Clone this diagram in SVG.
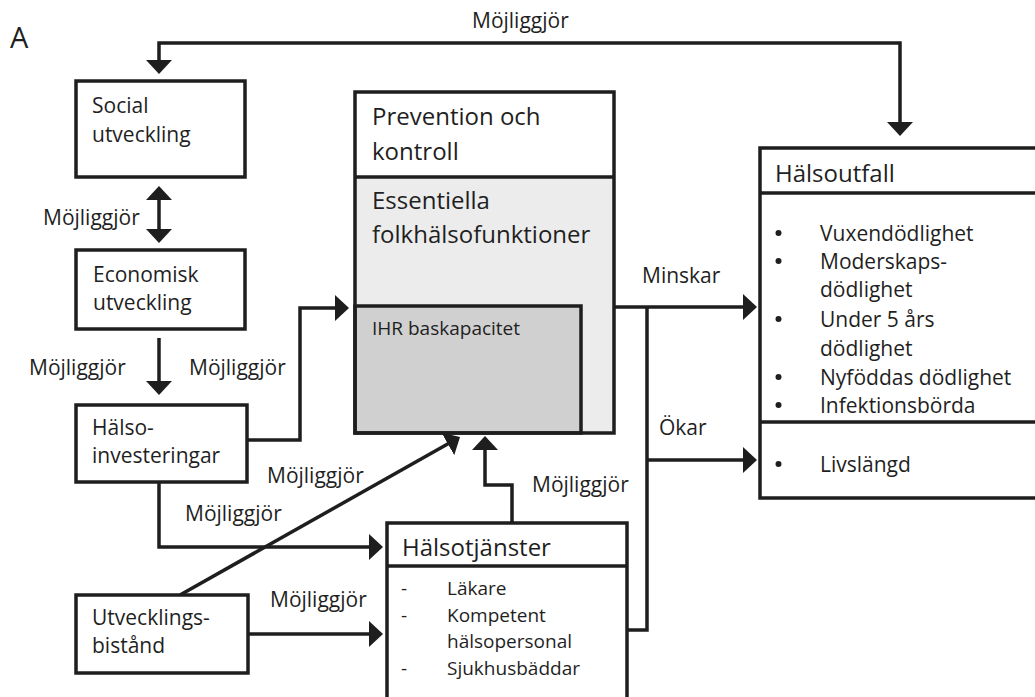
<svg xmlns="http://www.w3.org/2000/svg" width="1035" height="697" viewBox="0 0 1035 697">
  <style>
    text { font-family: "Open Sans", "Liberation Sans", sans-serif; fill: #1f1f1f; }
    .lbl { font-size: 21px; }
    .ttl { font-size: 24px; }
    .sm { font-size: 19px; }
    .box { fill: #ffffff; stroke: #1e1e1e; stroke-width: 3.5; }
    .ln { fill: none; stroke: #1e1e1e; stroke-width: 3.5; }
    .conn { fill: none; stroke: #1e1e1e; stroke-width: 3.5; marker-end: url(#ah); }
    .bul { fill: #1f1f1f; }
  </style>
  <defs>
    <marker id="ah" viewBox="0 0 14 26" refX="11" refY="13" markerWidth="14" markerHeight="26" markerUnits="userSpaceOnUse" orient="auto">
      <path d="M0,0 L14,13 L0,26 z" fill="#1e1e1e"/>
    </marker>
    <marker id="ahs" viewBox="0 0 14 26" refX="11" refY="13" markerWidth="14" markerHeight="26" markerUnits="userSpaceOnUse" orient="auto-start-reverse">
      <path d="M0,0 L14,13 L0,26 z" fill="#1e1e1e"/>
    </marker>
  </defs>
  <rect width="1035" height="697" fill="#ffffff"/>

  <text x="10" y="48" style="font-size:29px">A</text>

  <g id="connectors">
    <path class="ln" d="M900,133 V43 H159 V71" marker-start="url(#ahs)" marker-end="url(#ahs)"/>
    <path class="ln" d="M159,189 V240" marker-start="url(#ahs)" marker-end="url(#ahs)"/>
    <path class="conn" d="M159,338 V392"/>
    <path class="conn" d="M247,440 H300 V308 H346"/>
    <path class="conn" d="M159,482 V547 H380"/>
    <path class="conn" d="M180,595 L457.4,438.5"/>
    <path class="conn" d="M248,634 H380"/>
    <path class="conn" d="M512,523 V485 H485 V439"/>
    <path class="conn" d="M614,307 H754"/>
    <path class="ln" d="M627,630 H647 V307"/>
    <path class="conn" d="M647,460 H754"/>
    <text class="lbl" x="472" y="28">Möjliggjör</text>
    <text class="lbl" x="43" y="225">Möjliggjör</text>
    <text class="lbl" x="29" y="375">Möjliggjör</text>
    <text class="lbl" x="189" y="375">Möjliggjör</text>
    <text class="lbl" x="267" y="483">Möjliggjör</text>
    <text class="lbl" x="185" y="521">Möjliggjör</text>
    <text class="lbl" x="270" y="607">Möjliggjör</text>
    <text class="lbl" x="532" y="492">Möjliggjör</text>
    <text class="lbl" x="642" y="283">Minskar</text>
    <text class="lbl" x="659" y="435">Ökar</text>
  </g>

  <g id="social">
    <rect class="box" x="76" y="81" width="169" height="96"/>
    <text class="lbl" x="92" y="113">Social</text>
    <text class="lbl" x="92" y="142">utveckling</text>
  </g>

  <g id="economisk">
    <rect class="box" x="76" y="250" width="169" height="79"/>
    <text class="lbl" x="93" y="282">Economisk</text>
    <text class="lbl" x="93" y="310">utveckling</text>
  </g>

  <g id="halsoinvesteringar">
    <rect class="box" x="76" y="405" width="171" height="77"/>
    <text class="lbl" x="92" y="435">Hälso-</text>
    <text class="lbl" x="92" y="463">investeringar</text>
  </g>

  <g id="utvecklingsbistand">
    <rect class="box" x="76" y="595" width="172" height="78"/>
    <text class="lbl" x="92" y="625">Utvecklings-</text>
    <text class="lbl" x="92" y="653">bistånd</text>
  </g>

  <g id="prevention">
    <rect x="355" y="92" width="259" height="341" fill="#ffffff"/>
    <rect x="355" y="177" width="259" height="256" fill="#ececec"/>
    <line class="ln" x1="355" y1="177" x2="614" y2="177"/>
    <rect x="355" y="306" width="226" height="127" fill="#d0d0d0" stroke="#1e1e1e" stroke-width="3.5"/>
    <rect x="355" y="92" width="259" height="341" fill="none" stroke="#1e1e1e" stroke-width="3.5"/>
    <text class="ttl" x="372" y="125">Prevention och</text>
    <text class="ttl" x="372" y="160">kontroll</text>
    <text class="ttl" x="372" y="209">Essentiella</text>
    <text class="ttl" x="372" y="243">folkhälsofunktioner</text>
    <text class="sm" x="372" y="335">IHR baskapacitet</text>
  </g>

  <g id="halsoutfall">
    <rect class="box" x="760" y="148" width="290" height="350"/>
    <line class="ln" x1="760" y1="193" x2="1040" y2="193"/>
    <line class="ln" x1="760" y1="422" x2="1040" y2="422"/>
    <text class="ttl" x="775" y="182">Hälsoutfall</text>
    <circle class="bul" cx="778.5" cy="233" r="3"/>
    <text class="lbl" x="820" y="241">Vuxendödlighet</text>
    <circle class="bul" cx="778.5" cy="261" r="3"/>
    <text class="lbl" x="820" y="269">Moderskaps-</text>
    <text class="lbl" x="820" y="297">dödlighet</text>
    <circle class="bul" cx="778.5" cy="319" r="3"/>
    <text class="lbl" x="820" y="327">Under 5 års</text>
    <text class="lbl" x="820" y="356">dödlighet</text>
    <circle class="bul" cx="778.5" cy="377" r="3"/>
    <text class="lbl" x="820" y="385">Nyföddas dödlighet</text>
    <circle class="bul" cx="778.5" cy="405" r="3"/>
    <text class="lbl" x="820" y="413">Infektionsbörda</text>
    <circle class="bul" cx="778.5" cy="464" r="3"/>
    <text class="lbl" x="820" y="472">Livslängd</text>
  </g>

  <g id="halsotjanster">
    <rect class="box" x="387" y="523" width="240" height="190"/>
    <line class="ln" x1="387" y1="566" x2="627" y2="566"/>
    <text class="ttl" x="402" y="556">Hälsotjänster</text>
    <text class="sm" x="401" y="595">-</text>
    <text class="sm" x="447" y="595">Läkare</text>
    <text class="sm" x="401" y="622">-</text>
    <text class="sm" x="447" y="622">Kompetent</text>
    <text class="sm" x="447" y="648">hälsopersonal</text>
    <text class="sm" x="401" y="675">-</text>
    <text class="sm" x="447" y="675">Sjukhusbäddar</text>
  </g>
</svg>
